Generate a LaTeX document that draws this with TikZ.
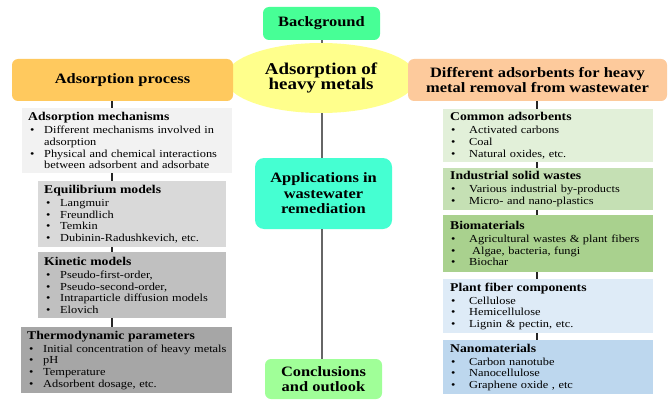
\documentclass[tikz,border=0pt]{standalone}
\usepackage{fontspec}
\setmainfont{Liberation Serif}[FakeStretch=1.15]
\usetikzlibrary{shapes.geometric}
\definecolor{bgc}{HTML}{47FF96}
\definecolor{procc}{HTML}{FFC95E}
\definecolor{ellc}{HTML}{FFFF8C}
\definecolor{diffc}{HTML}{FDCA9C}
\definecolor{appc}{HTML}{45FFD2}
\definecolor{conc}{HTML}{A0FF98}
\definecolor{mechc}{HTML}{F2F2F2}
\definecolor{equic}{HTML}{D9D9D9}
\definecolor{kinc}{HTML}{C0C0C0}
\definecolor{thermc}{HTML}{A6A6A6}
\definecolor{commc}{HTML}{E2F0D9}
\definecolor{indc}{HTML}{C5E0B4}
\definecolor{bioc}{HTML}{A9D18E}
\definecolor{plantc}{HTML}{DEEBF7}
\definecolor{nanoc}{HTML}{BDD7EE}
\newcommand\bulL{\makebox[16pt][l]{\hspace{2pt}\textbullet}}
\newcommand\bulR{\makebox[19pt][l]{\hspace{1pt}\textbullet}}
\newcommand\boxtitle[1]{{\fontsize{11.9}{13}\selectfont\bfseries #1}}
\newcommand\nohyph{\hyphenpenalty=10000 \hbadness=10000 \hfuzz=20pt\relax}
\begin{document}
\begin{tikzpicture}[x=1pt,y=-1pt,
  major/.style={rounded corners=6pt, inner sep=0pt, align=center,
    font=\fontsize{14.3}{15.5}\selectfont\bfseries},
  cbox/.style={anchor=north west, inner xsep=6pt, inner ysep=0pt, align=left,
    font=\fontsize{10.75}{11.6}\selectfont\nohyph},
  rbox/.style={cbox, inner xsep=7pt},
  spine/.style={draw=black!60, line width=1.3pt},
  tick/.style={draw=black!85, line width=1.6pt}]
\useasboundingbox (0,0) rectangle (668,401);
\fill[white] (0,0) rectangle (668,401);
% central ellipse
\node[ellipse, fill=ellc, inner sep=0pt, minimum width=192pt, minimum height=70pt,
  align=center, font=\fontsize{16.5}{15.5}\selectfont\bfseries] (ell) at (321,78)
  {Adsorption of\\heavy metals};
% major boxes
\node[major, fill=bgc, minimum width=117pt, minimum height=33pt] (bg) at (321.5,23.5) {Background};
\node[major, fill=procc, minimum width=221pt, minimum height=42pt] (proc) at (122.5,80) {Adsorption process};
\node[major, fill=diffc, minimum width=259pt, minimum height=42pt] (diff) at (537.5,80)
  {Different adsorbents for heavy\\metal removal from wastewater};
\node[major, fill=appc, rounded corners=9pt, minimum width=137pt, minimum height=71pt] (app) at (323.5,193.5)
  {Applications in\\wastewater\\remediation};
\node[major, fill=conc, minimum width=117pt, minimum height=40pt] (concl) at (323.5,379)
  {Conclusions\\and outlook};
% left column
\node[cbox, fill=mechc, text width=198pt, minimum height=65pt] (mech) at (22,108)
  {\boxtitle{Adsorption mechanisms}\\[1.5pt]
   \bulL Different mechanisms involved in\\
   \hspace*{16pt}adsorption\\
   \bulL \mbox{Physical and chemical interactions}\\
   \hspace*{16pt}\mbox{between adsorbent and adsorbate}};
\node[cbox, fill=equic, text width=176pt, minimum height=66pt] (equi) at (38,181)
  {\boxtitle{Equilibrium models}\\[1.5pt]
   \bulL Langmuir\\
   \bulL Freundlich\\
   \bulL Temkin\\
   \bulL Dubinin-Radushkevich, etc.};
\node[cbox, fill=kinc, text width=176pt, minimum height=66pt] (kin) at (38,252)
  {\boxtitle{Kinetic models}\\[1.5pt]
   \bulL Pseudo-first-order,\\
   \bulL Pseudo-second-order,\\
   \bulL \mbox{Intraparticle diffusion models}\\
   \bulL Elovich};
\node[cbox, fill=thermc, text width=199pt, minimum height=66pt] (therm) at (21,327)
  {\boxtitle{Thermodynamic parameters}\\[1.5pt]
   \bulL \mbox{Initial concentration of heavy metals}\\
   \bulL pH\\
   \bulL Temperature\\
   \bulL Adsorbent dosage, etc.};
% right column
\node[rbox, fill=commc, text width=196pt, minimum height=53pt] (comm) at (443,109)
  {\boxtitle{Common adsorbents}\\[1.5pt]
   \bulR Activated carbons\\
   \bulR Coal\\
   \bulR Natural oxides, etc.};
\node[rbox, fill=indc, text width=196pt, minimum height=42pt] (ind) at (443,168)
  {\boxtitle{Industrial solid wastes}\\[1.5pt]
   \bulR Various industrial by-products\\
   \bulR Micro- and nano-plastics};
\node[rbox, fill=bioc, text width=196pt, minimum height=57pt] (bio) at (443,215)
  {\boxtitle{Biomaterials}\\[1.5pt]
   \bulR \mbox{Agricultural wastes \& plant fibers}\\
   \bulR \hspace{3pt}Algae, bacteria, fungi\\
   \bulR Biochar};
\node[rbox, fill=plantc, text width=196pt, minimum height=54pt] (plant) at (443,279)
  {\boxtitle{Plant fiber components}\\[1.5pt]
   \bulR Cellulose\\
   \bulR Hemicellulose\\
   \bulR Lignin \& pectin, etc.};
\node[rbox, fill=nanoc, text width=196pt, minimum height=54pt] (nano) at (443,340)
  {\boxtitle{Nanomaterials}\\[1.5pt]
   \bulR Carbon nanotube\\
   \bulR Nanocellulose\\
   \bulR Graphene oxide , etc};
% connectors
\coordinate (C) at (322,0);
\coordinate (L) at (112,0);
\coordinate (R) at (537,0);
\draw[spine] (bg.south -| C) -- (ell.north -| C);
\draw[spine] (ell.south -| C) -- (app.north -| C);
\draw[spine] (app.south -| C) -- (concl.north -| C);
\draw[tick] (proc.south -| L) -- (mech.north -| L);
\draw[tick] (mech.south -| L) -- (equi.north -| L);
\draw[tick] (equi.south -| L) -- (kin.north -| L);
\draw[tick] (kin.south -| L) -- (therm.north -| L);
\draw[tick] (diff.south -| R) -- (comm.north -| R);
\draw[tick] (comm.south -| R) -- (ind.north -| R);
\draw[tick] (ind.south -| R) -- (bio.north -| R);
\draw[tick] (bio.south -| R) -- (plant.north -| R);
\draw[tick] (plant.south -| R) -- (nano.north -| R);
\end{tikzpicture}
\end{document}
